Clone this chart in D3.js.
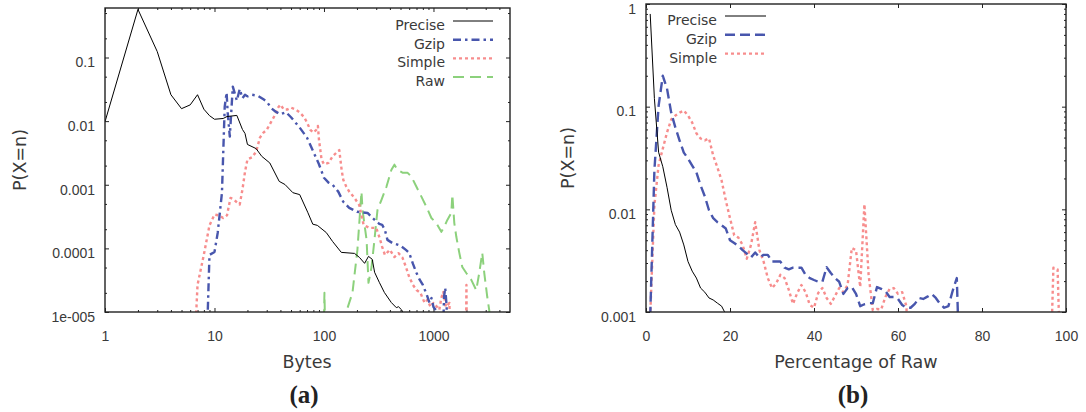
<!DOCTYPE html>
<html>
<head>
<meta charset="utf-8">
<script src="https://cdn.jsdelivr.net/npm/d3@7"></script>
<style>
body { margin: 0; background: #fff; }
svg { font-family: "DejaVu Sans", sans-serif; }
.axis text { fill: #3a3a3a; font-size: 14px; }
.axis line { stroke: #222; stroke-width: 1; }
</style>
</head>
<body>
<svg width="1086" height="412"></svg>
<script>
// ---- panel (a): P(X=n) vs bytes, log-log ----
var precise_a_x = [1, 2, 3, 4, 5, 6, 7, 8, 9, 10, 12, 13, 16, 18, 19, 20, 24, 27, 32, 39, 44, 52, 60, 71, 79, 87,
    105, 120, 144, 190, 211, 235, 255, 276, 290, 320, 356, 412, 458, 479, 512, 540];
var precise_a_y = [0.0098, 0.57, 0.124, 0.026, 0.0157, 0.018, 0.026, 0.0154, 0.0122, 0.0107, 0.011, 0.0118, 0.0123,
    0.0074, 0.0064, 0.0043, 0.0037, 0.0028, 0.0022, 0.00113, 0.00101, 0.00075, 0.0007, 0.00037, 0.00024, 0.00023,
    0.000177, 0.000128, 0.0000865, 0.0000834, 0.000072, 0.0000582, 0.0000749, 0.0000673, 0.0000421, 0.0000293,
    0.0000203, 0.0000141, 0.0000117, 0.0000121, 0.0000108, 0.000009];

var gzip_a_x = [8, 9, 10, 10.7, 11.7, 12.4, 12.9, 13.2, 13.8, 14.4, 14.7, 16, 17, 18, 19, 20, 22, 25, 28, 30, 33, 36,
    40, 45, 50, 60, 70, 80, 90, 100, 110, 120, 135, 150, 170, 200, 250, 290, 320, 340, 360, 380, 420, 500, 560, 600,
    650, 700, 750, 800, 870, 920, 960, 1000, 1050, 1150, 1250, 1280, 1320, 1350];
var gzip_a_y = [1e-7, 0.000079, 0.000088, 0.000175, 0.00075, 0.0169, 0.0281, 0.0136, 0.0057, 0.0195, 0.0349, 0.021,
    0.032, 0.023, 0.026, 0.0245, 0.026, 0.025, 0.022, 0.0203, 0.016, 0.0142, 0.0128, 0.0138, 0.0115, 0.0079, 0.0055,
    0.0033, 0.0021, 0.00129, 0.00108, 0.001, 0.00078, 0.00054, 0.000434, 0.000376, 0.00036, 0.000281, 0.000243,
    0.000235, 0.000195, 0.000136, 0.000122, 0.00011, 0.0000947, 0.0000851, 0.000057, 0.0000411, 0.0000319,
    0.0000266, 0.0000185, 0.0000139, 0.0000166, 0.000012, 0.0000107, 1e-7, 0.0000175, 0.0000239, 0.000012, 1e-7];

var simple_a_x = [6, 7, 8, 9, 10, 11, 12, 13, 14, 15, 16, 17, 18, 19, 20, 22, 24, 26, 28, 30, 33, 36, 38, 40, 43, 46,
    50, 55, 60, 66, 70, 75, 80, 85, 88, 90, 95, 100, 110, 120, 130, 138, 145, 150, 160, 170, 190, 210, 230, 260, 300,
    320, 340, 360, 400, 440, 480, 520, 560, 600, 650, 700, 760, 830, 880, 940, 1000, 1080, 1130, 1180, 1230, 1300,
    1400, 1450, 1950, 2000, 2050];
var simple_a_y = [1e-7, 0.0000266, 0.00008, 0.00023, 0.00034, 0.00033, 0.0003, 0.00033, 0.00062, 0.00059, 0.00053,
    0.00049, 0.00084, 0.0016, 0.0025, 0.0027, 0.0033, 0.0055, 0.0066, 0.0073, 0.0098, 0.0128, 0.0163, 0.0182, 0.0152,
    0.0152, 0.0163, 0.0152, 0.0137, 0.0115, 0.0095, 0.0073, 0.0066, 0.0073, 0.0084, 0.0051, 0.0025, 0.0021, 0.0022,
    0.0028, 0.0032, 0.0035, 0.0017, 0.0012, 0.00093, 0.00078, 0.00062, 0.00048, 0.000234, 0.00021, 0.00021,
    0.000152, 0.000106, 0.000079, 0.000095, 0.000073, 0.000084, 0.000072, 0.0000512, 0.0000356, 0.0000266,
    0.0000222, 0.00002, 0.0000139, 0.0000155, 0.000012, 0.0000139, 0.000012, 0.0000108, 0.0000166, 0.0000207,
    0.000012, 0.0000139, 1e-7, 1e-7, 0.0000266, 1e-7];

var raw_a_x = [95, 101, 107, 154, 161, 182, 202, 220, 225, 245, 255, 272, 289, 308, 335, 372, 413, 440, 469, 521, 578,
    629, 699, 776, 862, 957, 1062, 1180, 1256, 1339, 1456, 1487, 1550, 1617, 1722, 1833, 1994, 2215, 2459, 2618,
    2790, 2911, 3100, 3235, 3300];
var raw_a_y = [1e-7, 0.00002, 1e-7, 1e-7, 0.0000105, 0.00002, 0.000095, 0.00078, 0.0004, 0.000136, 0.0000287,
    0.000051, 0.000136, 0.0004, 0.00058, 0.00093, 0.00172, 0.00207, 0.00172, 0.00155, 0.00155, 0.00134, 0.00093,
    0.00065, 0.00045, 0.0003, 0.00025, 0.000182, 0.00022, 0.00028, 0.00036, 0.0007, 0.00025, 0.000152, 0.000085,
    0.000051, 0.000041, 0.000032, 0.000022, 0.000041, 0.000085, 0.000041, 0.0000172, 0.0000105, 1e-7];

var a_x_ticks = [1, 10, 100, 1000];
var a_x_tick_labels = ["1", "10", "100", "1000"];
var a_y_ticks = [0.1, 0.01, 0.001, 0.0001, 0.00001];
var a_y_tick_labels = ["0.1", "0.01", "0.001", "0.0001", "1e-005"];

// ---- panel (b): P(X=n) vs percentage of raw ----
var precise_b_x = [1, 2, 3, 4, 5, 6, 7, 8, 9, 10, 11, 12, 13, 14, 15, 16, 17, 18, 19, 20];
var precise_b_y = [0.8, 0.12, 0.036, 0.026, 0.0164, 0.0098, 0.0071, 0.006, 0.0045, 0.0031, 0.0025, 0.00214,
    0.00171, 0.00156, 0.00137, 0.00131, 0.00122, 0.00114, 0.00095, 0.0001];

var gzip_b_x = d3.range(1, 76);
var gzip_b_y = [0.0009, 0.024, 0.102, 0.2, 0.15, 0.0875, 0.0625, 0.0468, 0.0357, 0.0313, 0.0267, 0.0229, 0.0171,
    0.0134, 0.0098, 0.0082, 0.0075, 0.007, 0.0065, 0.005, 0.0047, 0.0044, 0.004, 0.0037, 0.0034, 0.0038, 0.0034,
    0.0036, 0.0036, 0.0031, 0.0031, 0.0031, 0.0027, 0.0026, 0.0027, 0.0027, 0.0027, 0.0023, 0.00214, 0.00205,
    0.00197, 0.00197, 0.00273, 0.0024, 0.00214, 0.00197, 0.0015, 0.00171, 0.00175, 0.0015, 0.00114, 0.00119,
    0.00122, 0.00122, 0.00175, 0.00168, 0.0016, 0.0014, 0.0014, 0.00134, 0.00117, 0.0011, 0.0011, 0.0012, 0.00137,
    0.00134, 0.00141, 0.0015, 0.00137, 0.0012, 0.0011, 0.00114, 0.0016, 0.00214, 0.0001];

var simple_b_x = d3.range(1, 101);
var simple_b_y = [0.0009, 0.011, 0.027, 0.039, 0.056, 0.075, 0.082, 0.0875, 0.0915, 0.082, 0.07, 0.055, 0.049,
    0.047, 0.049, 0.0334, 0.0256, 0.0191, 0.0122, 0.0082, 0.0056, 0.0053, 0.0045, 0.0033, 0.0045, 0.0075, 0.004,
    0.0031, 0.00214, 0.00171, 0.0019, 0.0023, 0.00214, 0.00164, 0.0012, 0.00153, 0.00183, 0.00156, 0.00117, 0.0011,
    0.00153, 0.00171, 0.00137, 0.0012, 0.00143, 0.00171, 0.00156, 0.00183, 0.0042, 0.004, 0.00175, 0.0112, 0.0023,
    0.00104, 0.00107, 0.00106, 0.0014, 0.00168, 0.00171, 0.0015, 0.00156, 0.00114,
    0.0001, 0.0001, 0.0001, 0.0001, 0.0001, 0.0001, 0.0001, 0.0001, 0.0001, 0.0001, 0.0001, 0.0001, 0.0001, 0.0001,
    0.0001, 0.0001, 0.0001, 0.0001, 0.0001, 0.0001, 0.0001, 0.0001, 0.0001, 0.0001, 0.0001, 0.0001, 0.0001, 0.0001,
    0.0001, 0.0001, 0.0001, 0.0001, 0.0001, 0.0001, 0.0027, 0.0026, 0.0001, 0.0001];

var b_x_ticks = [0, 20, 40, 60, 80, 100];
var b_y_ticks = [1, 0.1, 0.01, 0.001];
var b_y_tick_labels = ["1", "0.1", "0.01", "0.001"];

var style_precise = { color: "#000000", width: 1, dash: null };
var style_gzip_a = { color: "#4856ad", width: 2.4, dash: "8,4,2.5,4" };
var style_gzip_b = { color: "#4856ad", width: 2.4, dash: "10,5" };
var style_simple = { color: "#f78d8d", width: 2.4, dash: "3,3" };
var style_raw = { color: "#8cd17c", width: 2, dash: "11,6" };

var svg = d3.select("svg");

function log_minor(lo, hi, mults) {
    var out = [];
    for (var e = Math.floor(Math.log10(lo)); e <= Math.ceil(Math.log10(hi)); e++) {
        mults.forEach(function (m) {
            var v = m * Math.pow(10, e);
            if (v > lo * 1.0001 && v < hi * 0.9999) out.push(v);
        });
    }
    return out;
}

function setup_panel(left, top, right, bottom, id) {
    var width = right - left, height = bottom - top;
    var g = svg.append("g").attr("transform", "translate(" + left + "," + top + ")");
    svg.append("clipPath").attr("id", id)
        .append("rect").attr("x", 0).attr("y", 0).attr("width", width).attr("height", height);
    return { g: g, width: width, height: height };
}

function draw_axes(p, x_scale, y_scale, x_major, x_minor, x_labels, y_major, y_minor, y_labels) {
    var g = p.g, width = p.width, height = p.height;
    function strip(sel) { sel.select(".domain").remove(); }

    g.append("g").attr("class", "axis")
        .attr("transform", "translate(0," + height + ")")
        .call(d3.axisBottom(x_scale).tickValues(x_major).tickSize(-4).tickPadding(19)
            .tickFormat(function (d, i) { return x_labels[i]; }))
        .call(strip);
    g.append("g").attr("class", "axis")
        .call(d3.axisTop(x_scale).tickValues(x_major).tickSize(-4).tickFormat(""))
        .call(strip);

    var yl = g.append("g").attr("class", "axis")
        .call(d3.axisLeft(y_scale).tickValues(y_major).tickSize(-4).tickPadding(10)
            .tickFormat(function (d, i) { return y_labels[i]; }))
        .call(strip);
    yl.selectAll("text").attr("dy", "0.66em");
    g.append("g").attr("class", "axis")
        .attr("transform", "translate(" + width + ",0)")
        .call(d3.axisRight(y_scale).tickValues(y_major).tickSize(-4).tickFormat(""))
        .call(strip);

    if (x_minor.length) {
        g.append("g").attr("class", "axis")
            .attr("transform", "translate(0," + height + ")")
            .call(d3.axisBottom(x_scale).tickValues(x_minor).tickSize(-2).tickFormat(""))
            .call(strip);
        g.append("g").attr("class", "axis")
            .call(d3.axisTop(x_scale).tickValues(x_minor).tickSize(-2).tickFormat(""))
            .call(strip);
    }
    g.append("g").attr("class", "axis")
        .call(d3.axisLeft(y_scale).tickValues(y_minor).tickSize(-2).tickFormat(""))
        .call(strip);
    g.append("g").attr("class", "axis")
        .attr("transform", "translate(" + width + ",0)")
        .call(d3.axisRight(y_scale).tickValues(y_minor).tickSize(-2).tickFormat(""))
        .call(strip);
}

function draw_series(p, clip_id, x_scale, y_scale, xs, ys, style) {
    var pts = xs.map(function (x, i) { return [x, ys[i]]; });
    var line = d3.line()
        .x(function (d) { return x_scale(d[0]); })
        .y(function (d) { return y_scale(d[1]); });
    p.g.append("path")
        .datum(pts)
        .attr("clip-path", "url(#" + clip_id + ")")
        .attr("fill", "none")
        .attr("stroke", style.color)
        .attr("stroke-width", style.width)
        .attr("stroke-dasharray", style.dash)
        .attr("stroke-linejoin", "round")
        .attr("d", line);
}

function draw_frame(p) {
    p.g.append("rect")
        .attr("width", p.width).attr("height", p.height)
        .attr("fill", "none").attr("stroke", "#222").attr("stroke-width", 1.4);
}

function draw_legend(names, styles, text_x, line_x1, line_x2, y0, step) {
    names.forEach(function (name, i) {
        var y = y0 + i * step;
        svg.append("text")
            .attr("x", text_x).attr("y", y + 9)
            .attr("text-anchor", "end")
            .attr("font-size", "14px").attr("fill", "#3a3a3a")
            .text(name);
        svg.append("line")
            .attr("x1", line_x1).attr("x2", line_x2).attr("y1", y).attr("y2", y)
            .attr("stroke", styles[i].color)
            .attr("stroke-width", styles[i].width)
            .attr("stroke-dasharray", styles[i].dash);
    });
}

function draw_titles(cx, x_title, y_title_x, cy, tag) {
    svg.append("text")
        .attr("x", cx).attr("y", 368)
        .attr("text-anchor", "middle")
        .attr("font-size", "17.5px").attr("fill", "#3a3a3a")
        .text(x_title);
    svg.append("text")
        .attr("transform", "translate(" + y_title_x + "," + cy + ") rotate(-90)")
        .attr("text-anchor", "middle")
        .attr("font-size", "17.5px").attr("fill", "#3a3a3a")
        .text("P(X=n)");
    svg.append("text")
        .attr("x", cx - 3).attr("y", 403)
        .attr("text-anchor", "middle")
        .attr("font-family", "Liberation Serif, serif")
        .attr("font-weight", "bold")
        .attr("font-size", "25px").attr("fill", "#222")
        .text(tag);
}

// panel (a)
var pa = setup_panel(105, 8, 510, 312, "clip_a");
var xa = d3.scaleLog().domain([1, 5000]).range([0, pa.width]);
var ya = d3.scaleLog().domain([0.00001, 0.6]).range([pa.height, 0]);
draw_axes(pa, xa, ya, a_x_ticks, log_minor(1, 5000, [2, 3, 4, 5, 6, 7, 8, 9]), a_x_tick_labels,
    a_y_ticks, log_minor(0.00001, 0.6, [2, 5]), a_y_tick_labels);
draw_series(pa, "clip_a", xa, ya, raw_a_x, raw_a_y, style_raw);
draw_series(pa, "clip_a", xa, ya, simple_a_x, simple_a_y, style_simple);
draw_series(pa, "clip_a", xa, ya, gzip_a_x, gzip_a_y, style_gzip_a);
draw_series(pa, "clip_a", xa, ya, precise_a_x, precise_a_y, style_precise);
draw_frame(pa);
draw_legend(["Precise", "Gzip", "Simple", "Raw"], [style_precise, style_gzip_a, style_simple, style_raw],
    445, 453, 493, 21, 18.7);
draw_titles(307, "Bytes", 26, 160, "(a)");

// panel (b)
var pb = setup_panel(646, 4, 1066, 312, "clip_b");
var xb = d3.scaleLinear().domain([0, 100]).range([0, pb.width]);
var yb = d3.scaleLog().domain([0.001, 1]).range([pb.height, 0]);
draw_axes(pb, xb, yb, b_x_ticks, [], b_x_ticks.map(String),
    b_y_ticks, log_minor(0.001, 1, [2, 3, 4, 5, 6, 7, 8, 9]), b_y_tick_labels);
draw_series(pb, "clip_b", xb, yb, simple_b_x, simple_b_y, style_simple);
draw_series(pb, "clip_b", xb, yb, gzip_b_x, gzip_b_y, style_gzip_b);
draw_series(pb, "clip_b", xb, yb, precise_b_x, precise_b_y, style_precise);
draw_frame(pb);
draw_legend(["Precise", "Gzip", "Simple"], [style_precise, style_gzip_b, style_simple],
    717, 725, 766, 16, 18.8);
draw_titles(856, "Percentage of Raw", 574, 158, "(b)");
</script>
</body>
</html>
